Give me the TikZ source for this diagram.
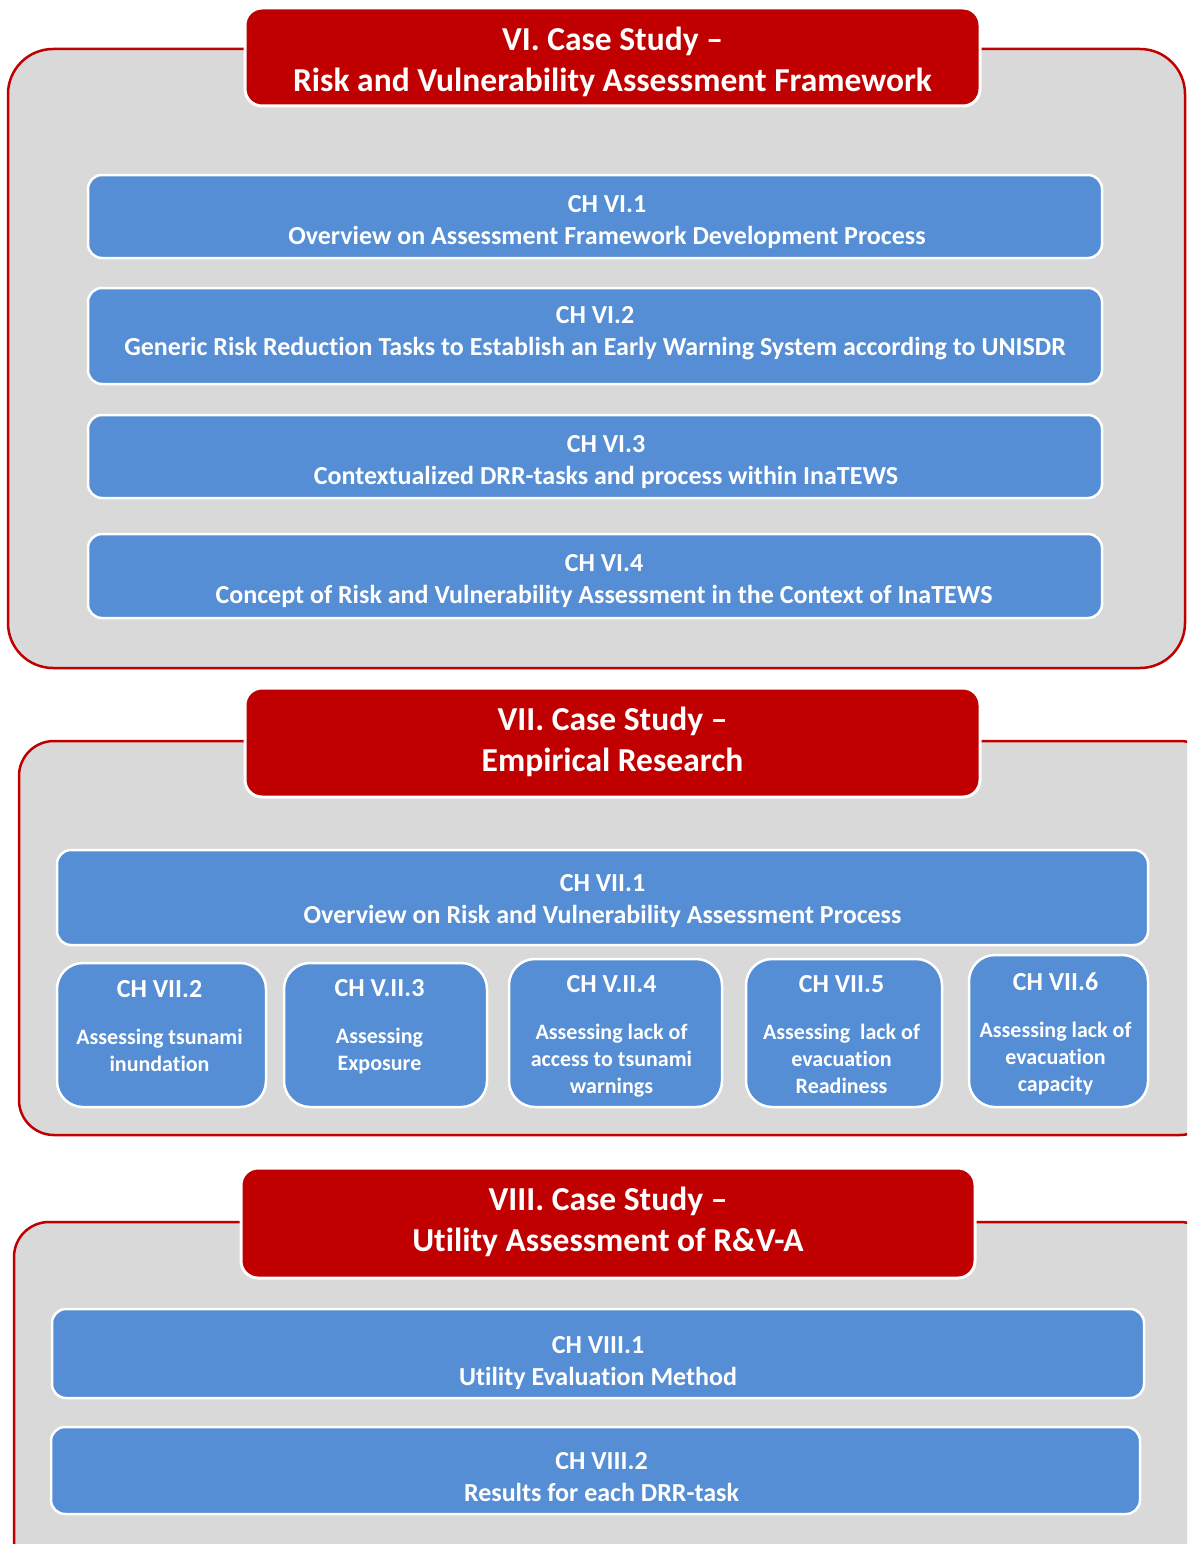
\documentclass[tikz,border=0pt]{standalone}
\usepackage{fontspec}
\setmainfont[Ligatures=NoCommon]{Carlito}
\definecolor{panelgrey}{HTML}{D9D9D9}
\definecolor{panelred}{HTML}{C00000}
\definecolor{chapblue}{HTML}{558ED5}
\newcommand{\chaptitle}[1]{{\fontsize{26}{27}\selectfont #1}}
\begin{document}
\begin{tikzpicture}[x=1pt,y=-1pt,
  panel/.style={draw=panelred, line width=2.5pt, fill=panelgrey},
  header/.style={draw=white, line width=3pt, fill=panelred, rounded corners=17pt,
    inner sep=0pt},
  headertext/.style={text=white, font=\bfseries\fontsize{33.5}{41}\selectfont,
    align=center, inner sep=0pt},
  chapter/.style={draw=white, line width=2.5pt, fill=chapblue, rounded corners=14pt,
    inner sep=0pt},
  chaptext/.style={text=white, font=\bfseries\fontsize{26}{32}\selectfont,
    align=center, inner sep=0pt},
  smallchap/.style={chapter, rounded corners=26pt},
  smalltext/.style={chaptext, font=\bfseries\fontsize{22}{27}\selectfont}
]
\useasboundingbox (0,0) rectangle (1187,1544);
\begin{scope}
\clip (0,0) rectangle (1187,1544);

% ---------- part VI ----------
\draw[panel, rounded corners=45pt] (8,49) rectangle (1185,668);
\node[header, minimum width=735pt, minimum height=98pt] (h6) at (612.5,57) {};
\node[headertext] (h6t) at ([shift={(0,5)}]h6.center)
  {VI. Case Study --\\Risk and Vulnerability Assessment Framework};

\node[chapter, minimum width=1014pt, minimum height=83pt] (c61) at (595,216.5) {};
\node[chaptext] (c61t) at ([shift={(12,6)}]c61.center)
  {CH VI.1\\Overview on Assessment Framework Development Process};
\node[chapter, minimum width=1014pt, minimum height=96pt] (c62) at (595,336) {};
\node[chaptext] (c62t) at ([shift={(0,-3)}]c62.center)
  {CH VI.2\\Generic Risk Reduction Tasks to Establish an Early Warning System according to UNISDR};
\node[chapter, minimum width=1014pt, minimum height=83pt] (c63) at (595,456.5) {};
\node[chaptext] (c63t) at ([shift={(11,6)}]c63.center)
  {CH VI.3\\Contextualized DRR-tasks and process within InaTEWS};
\node[chapter, minimum width=1014pt, minimum height=84pt] (c64) at (595,576) {};
\node[chaptext] (c64t) at ([shift={(9,5)}]c64.center)
  {CH VI.4\\Concept of Risk and Vulnerability Assessment in the Context of InaTEWS};

% ---------- part VII ----------
\draw[panel, rounded corners=35pt] (19,741) rectangle (1215,1135);
\node[header, minimum width=735pt, minimum height=109pt] (h7) at (612.5,742.5) {};
\node[headertext] (h7t) at ([shift={(0,-1)}]h7.center)
  {VII. Case Study --\\Empirical Research};

\node[chapter, minimum width=1091pt, minimum height=95pt] (c71) at (602.5,897.5) {};
\node[chaptext] (c71t) at ([shift={(0,4)}]c71.center)
  {CH VII.1\\Overview on Risk and Vulnerability Assessment Process};

\node[smallchap, minimum width=209pt, minimum height=144pt] (c72) at (161.5,1035) {};
\node[smalltext] (c72t) at ([shift={(-2,-9)}]c72.center)
  {\chaptitle{CH VII.2}\\[20pt]Assessing tsunami\\inundation};
\node[smallchap, minimum width=203pt, minimum height=144pt] (c73) at (385.5,1035) {};
\node[smalltext] (c73t) at ([shift={(-6,-8)}]c73.center)
  {\chaptitle{CH V.II.3}\\[20pt]Assessing\\Exposure};
\node[smallchap, minimum width=213pt, minimum height=148pt] (c74) at (615.5,1033) {};
\node[smalltext] (c74t) at ([shift={(-4,3.5)}]c74.center)
  {\chaptitle{CH V.II.4}\\[20pt]Assessing lack of\\access to tsunami\\warnings};
\node[smallchap, minimum width=196pt, minimum height=148pt] (c75) at (844,1033) {};
\node[smalltext] (c75t) at ([shift={(-2.5,2)}]c75.center)
  {\chaptitle{CH VII.5}\\[20pt]Assessing\ \ lack of\\evacuation\\Readiness};
\node[smallchap, minimum width=179pt, minimum height=152pt] (c76) at (1058.5,1031) {};
\node[smalltext] (c76t) at ([shift={(-3,3)}]c76.center)
  {\chaptitle{CH VII.6}\\[20pt]Assessing lack of\\evacuation\\capacity};

% ---------- part VIII ----------
\draw[panel, rounded corners=35pt] (14,1222) rectangle (1215,1580);
\node[header, minimum width=734pt, minimum height=110pt] (h8) at (608,1223) {};
\node[headertext] (h8t) at ([shift={(0,-1)}]h8.center)
  {VIII. Case Study --\\Utility Assessment of R\&V-A};

\node[chapter, minimum width=1092pt, minimum height=89pt] (c81) at (598,1353.5) {};
\node[chaptext] (c81t) at ([shift={(0,10)}]c81.center)
  {CH VIII.1\\Utility Evaluation Method};
\node[chapter, minimum width=1089pt, minimum height=87pt] (c82) at (595.5,1470.5) {};
\node[chaptext] (c82t) at ([shift={(6,7)}]c82.center)
  {CH VIII.2\\Results for each DRR-task};
\end{scope}
\end{tikzpicture}
\end{document}
